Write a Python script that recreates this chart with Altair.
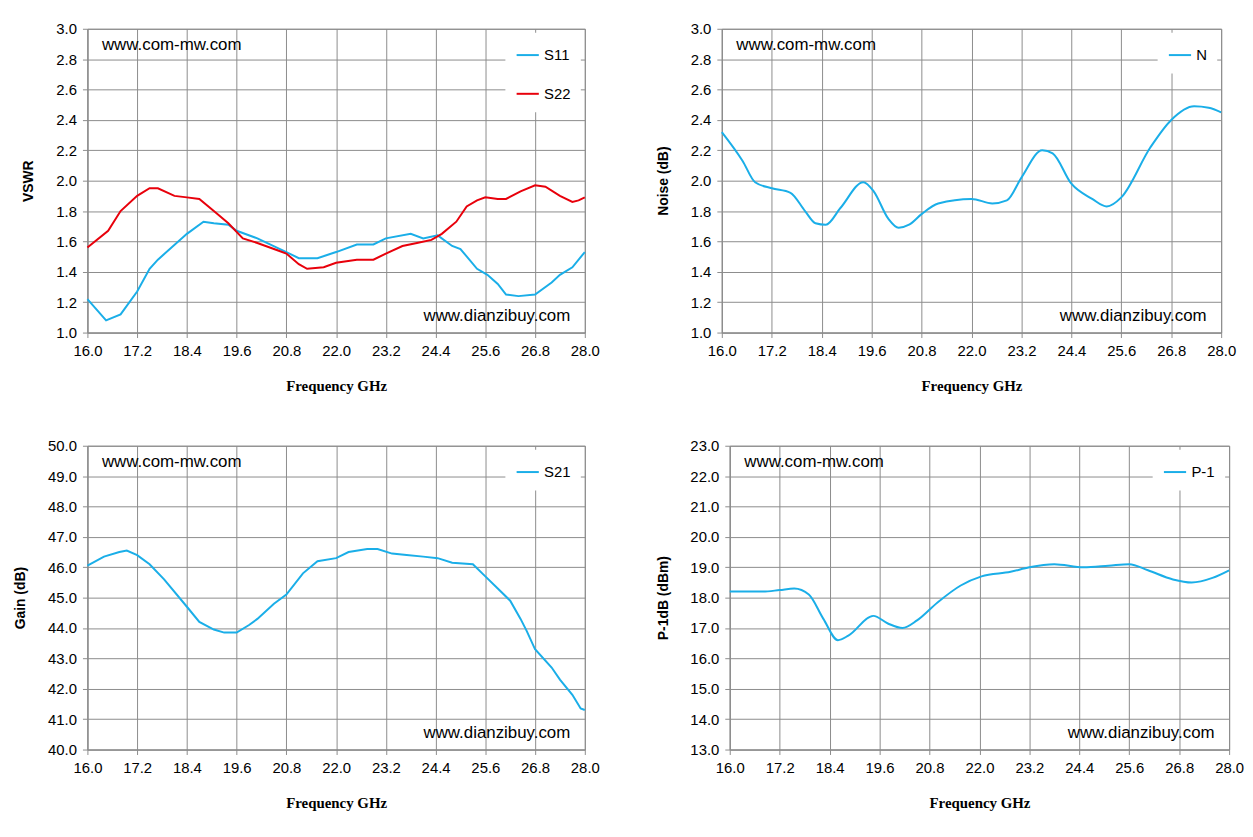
import altair as alt
import pandas as pd

BLUE = "#1AAEE8"
RED = "#E8000B"

# S11 / S22 (VSWR)
s11_f = [16.0, 16.45, 16.8, 17.2, 17.5, 17.7, 18.4, 18.8, 19.05, 19.4, 19.6, 20.1, 20.8, 21.1, 21.55, 22.0, 22.5, 22.9, 23.2, 23.8, 24.1, 24.45, 24.8, 25.0, 25.4, 25.65, 25.9, 26.1, 26.4, 26.8, 27.2, 27.4, 27.7, 28.0]
s11_v = [1.22, 1.08, 1.12, 1.27, 1.42, 1.48, 1.65, 1.73, 1.72, 1.71, 1.67, 1.62, 1.53, 1.49, 1.49, 1.53, 1.58, 1.58, 1.62, 1.65, 1.62, 1.64, 1.57, 1.55, 1.42, 1.38, 1.32, 1.25, 1.24, 1.25, 1.33, 1.38, 1.43, 1.53]
s22_f = [16.0, 16.5, 16.8, 17.2, 17.5, 17.7, 18.1, 18.4, 18.7, 19.05, 19.4, 19.75, 20.1, 20.6, 20.8, 21.1, 21.3, 21.7, 22.0, 22.5, 22.9, 23.2, 23.6, 23.95, 24.3, 24.55, 24.9, 25.15, 25.4, 25.6, 25.9, 26.1, 26.45, 26.8, 27.05, 27.4, 27.7, 27.85, 28.0]
s22_v = [1.56, 1.67, 1.80, 1.90, 1.95, 1.95, 1.90, 1.89, 1.88, 1.80, 1.72, 1.62, 1.59, 1.54, 1.52, 1.45, 1.42, 1.43, 1.46, 1.48, 1.48, 1.52, 1.57, 1.59, 1.61, 1.65, 1.73, 1.83, 1.87, 1.89, 1.88, 1.88, 1.93, 1.97, 1.96, 1.90, 1.86, 1.87, 1.89]

# Noise figure
n_f = [16.0, 16.5, 16.8, 17.2, 17.65, 18.0, 18.25, 18.5, 18.85, 19.4, 19.65, 20.0, 20.25, 20.5, 20.8, 21.2, 22.0, 22.5, 22.85, 23.2, 23.7, 23.95, 24.4, 24.9, 25.25, 25.6, 26.3, 26.8, 27.35, 27.7, 28.0]
n_v = [2.32, 2.13, 1.99, 1.95, 1.92, 1.80, 1.72, 1.71, 1.82, 1.99, 1.93, 1.75, 1.69, 1.71, 1.78, 1.85, 1.88, 1.85, 1.87, 2.02, 2.20, 2.18, 1.98, 1.88, 1.83, 1.89, 2.22, 2.40, 2.49, 2.48, 2.45]

# Gain S21
g_f = [16.0, 16.4, 16.77, 16.95, 17.2, 17.5, 17.85, 18.4, 18.7, 19.05, 19.3, 19.6, 19.9, 20.1, 20.5, 20.8, 21.2, 21.55, 22.0, 22.3, 22.75, 23.0, 23.35, 23.7, 24.1, 24.45, 24.8, 25.3, 25.6, 25.9, 26.2, 26.45, 26.6, 26.8, 27.2, 27.4, 27.7, 27.9, 28.0]
g_v = [46.05, 46.35, 46.5, 46.55, 46.4, 46.1, 45.6, 44.7, 44.2, 43.95, 43.85, 43.85, 44.1, 44.3, 44.8, 45.1, 45.8, 46.2, 46.3, 46.5, 46.6, 46.6, 46.45, 46.4, 46.35, 46.3, 46.15, 46.1, 45.7, 45.3, 44.9, 44.3, 43.9, 43.3, 42.7, 42.3, 41.8, 41.35, 41.3]

# P-1dB
p_f = [16.0, 16.8, 17.2, 17.55, 17.9, 18.25, 18.6, 18.85, 19.45, 19.8, 20.15, 20.5, 21.0, 21.55, 22.05, 22.75, 23.2, 23.8, 24.5, 25.1, 25.6, 26.05, 26.65, 27.1, 27.6, 28.0]
p_v = [18.2, 18.2, 18.25, 18.3, 18.1, 17.3, 16.6, 16.75, 17.4, 17.15, 17.0, 17.25, 17.85, 18.4, 18.7, 18.85, 19.0, 19.1, 19.0, 19.05, 19.1, 18.9, 18.6, 18.5, 18.65, 18.9]

x_ticks = [16.0, 17.2, 18.4, 19.6, 20.8, 22.0, 23.2, 24.4, 25.6, 26.8, 28.0]
TICK_FONT = "Liberation Sans"


def panel(series, y_title, y_min, y_max, y_step, interp="linear", width=501):
    rows = []
    for name, fs, vs, _ in series:
        rows += [{"f": f, "v": v, "s": name} for f, v in zip(fs, vs)]
    df = pd.DataFrame(rows)
    n = int(round((y_max - y_min) / y_step))
    y_ticks = [round(y_min + i * y_step, 2) for i in range(n + 1)]
    span = y_max - y_min
    xs = alt.Scale(domain=[16, 28], nice=False)
    ys = alt.Scale(domain=[y_min, y_max], nice=False, zero=False)
    xa = alt.Axis(values=x_ticks, format=".1f", title="Frequency GHz",
                  titleFont="Liberation Serif", titleFontSize=15, titleFontWeight="bold",
                  titlePadding=20, labelPadding=6, labelOverlap=False, labelFlush=False)
    ya = alt.Axis(values=y_ticks, format=".1f", title=y_title,
                  titleFont=TICK_FONT, titleFontSize=14, titleFontWeight="bold",
                  titlePadding=20, labelPadding=6, labelOverlap=False, labelFlush=False)

    line = alt.Chart(df).mark_line(strokeWidth=2, interpolate=interp).encode(
        x=alt.X("f:Q", scale=xs, axis=xa),
        y=alt.Y("v:Q", scale=ys, axis=ya),
        color=alt.Color("s:N", scale=alt.Scale(domain=[s[0] for s in series], range=[s[3] for s in series]),
                        legend=alt.Legend(title=None, orient="top-right", fillColor="white",
                                          symbolType="stroke", symbolStrokeWidth=2, symbolSize=500,
                                          labelFont=TICK_FONT, labelFontSize=15, padding=10,
                                          rowPadding=18, offset=4)),
    )
    marks = pd.DataFrame({
        "f": [16.35, 27.65],
        "v": [y_max - span * 0.055, y_min + span * 0.055],
        "t": ["www.com-mw.com", "www.dianzibuy.com"],
    })
    t1 = alt.Chart(marks.iloc[[0]]).mark_text(align="left", font=TICK_FONT, fontSize=17).encode(
        x=alt.X("f:Q", scale=xs, axis=xa), y=alt.Y("v:Q", scale=ys, axis=ya), text="t:N")
    t2 = alt.Chart(marks.iloc[[1]]).mark_text(align="right", font=TICK_FONT, fontSize=17).encode(
        x=alt.X("f:Q", scale=xs, axis=xa), y=alt.Y("v:Q", scale=ys, axis=ya), text="t:N")
    return alt.layer(line, t1, t2).properties(width=width, height=306)


tl = panel([("S11", s11_f, s11_v, BLUE), ("S22", s22_f, s22_v, RED)], "VSWR", 1.0, 3.0, 0.2)
tr = panel([("N", n_f, n_v, BLUE)], "Noise (dB)", 1.0, 3.0, 0.2, "monotone", width=503)
bl = panel([("S21", g_f, g_v, BLUE)], "Gain (dB)", 40.0, 50.0, 1.0)
br = panel([("P-1", p_f, p_v, BLUE)], "P-1dB (dBm)", 13.0, 23.0, 1.0, "monotone", width=503)

chart = alt.vconcat(
    alt.hconcat(tl, tr, spacing=55).resolve_scale(color="independent"),
    alt.hconcat(bl, br, spacing=55).resolve_scale(color="independent"),
    spacing=44,
    background="white",
    padding={"left": 5, "top": 10, "right": 0, "bottom": 0},
).resolve_scale(color="independent").configure_axis(
    labelFont=TICK_FONT, labelFontSize=15, labelColor="black",
    gridColor="#8c8c8c", gridWidth=1, domainColor="#8c8c8c", tickColor="#8c8c8c", tickSize=5,
).configure_view(stroke="#8c8c8c")

chart.save("out.html", embed_options={"renderer": "svg", "actions": False})
